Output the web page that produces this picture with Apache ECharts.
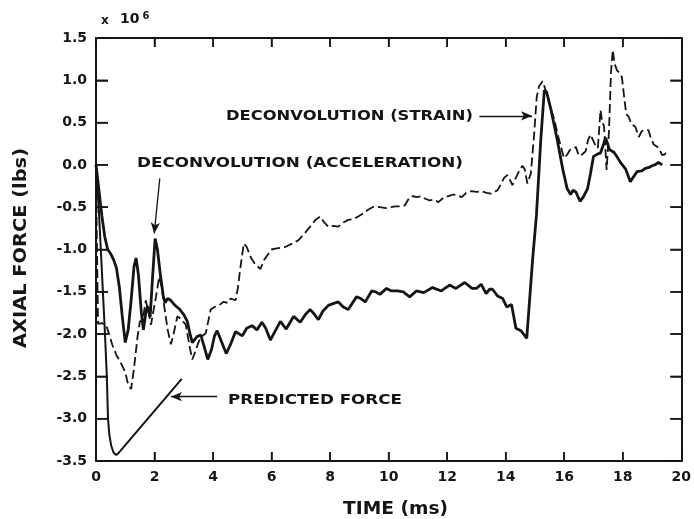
<!DOCTYPE html>
<html><head><meta charset="utf-8">
<script src="https://cdn.jsdelivr.net/npm/echarts@6/dist/echarts.min.js"></script>
<style>html,body{margin:0;padding:0;background:#fff}#c{width:694px;height:519px}</style>
</head><body><div id="c"></div>
<script>
// ---- data (time in ms, force in 10^6 lbs) ----
const accelTime = [0,0.1,0.2,0.3,0.4,0.5,0.6,0.7,0.8,0.9,1.0,1.1,1.2,1.3,1.37,1.45,1.55,1.62,1.7,1.76,1.85,1.92,2.02,2.1,2.2,2.3,2.36,2.45,2.55,2.7,2.84,3.0,3.12,3.2,3.29,3.45,3.58,3.7,3.82,3.95,4.05,4.14,4.3,4.45,4.6,4.77,4.9,5.0,5.15,5.33,5.5,5.67,5.8,5.96,6.1,6.3,6.5,6.6,6.75,6.98,7.15,7.32,7.45,7.6,7.75,7.94,8.1,8.28,8.45,8.62,8.9,9.05,9.2,9.42,9.55,9.7,9.93,10.1,10.3,10.5,10.72,10.95,11.2,11.5,11.8,12.08,12.3,12.6,12.85,13.0,13.16,13.33,13.45,13.55,13.72,13.9,14.04,14.2,14.35,14.52,14.72,14.92,15.05,15.2,15.32,15.4,15.55,15.76,15.95,16.1,16.22,16.3,16.4,16.54,16.65,16.8,16.9,17.0,17.15,17.24,17.35,17.41,17.48,17.55,17.7,17.8,17.92,18.1,18.26,18.35,18.49,18.65,18.77,18.9,19.0,19.1,19.22,19.35];
const accelForce = [0,-0.3,-0.6,-0.85,-1.0,-1.05,-1.12,-1.22,-1.45,-1.8,-2.1,-1.95,-1.6,-1.2,-1.1,-1.3,-1.75,-1.95,-1.75,-1.67,-1.8,-1.4,-0.87,-1.0,-1.3,-1.55,-1.63,-1.58,-1.6,-1.66,-1.7,-1.77,-1.85,-1.98,-2.1,-2.03,-2.01,-2.15,-2.3,-2.18,-2.02,-1.96,-2.1,-2.23,-2.12,-1.97,-2.0,-2.02,-1.93,-1.9,-1.95,-1.86,-1.93,-2.07,-1.98,-1.85,-1.94,-1.88,-1.79,-1.86,-1.77,-1.71,-1.76,-1.83,-1.73,-1.66,-1.64,-1.62,-1.68,-1.71,-1.56,-1.58,-1.62,-1.49,-1.5,-1.53,-1.46,-1.49,-1.49,-1.5,-1.56,-1.49,-1.51,-1.45,-1.49,-1.42,-1.46,-1.39,-1.46,-1.46,-1.41,-1.52,-1.47,-1.47,-1.55,-1.58,-1.68,-1.65,-1.93,-1.96,-2.05,-1.12,-0.6,0.3,0.88,0.86,0.65,0.3,-0.05,-0.28,-0.35,-0.3,-0.32,-0.43,-0.38,-0.28,-0.1,0.1,0.13,0.14,0.25,0.32,0.25,0.18,0.15,0.1,0.03,-0.05,-0.2,-0.15,-0.08,-0.07,-0.04,-0.03,-0.01,0.0,0.03,0.0];

const strainTime = [0,0.03,0.07,0.2,0.35,0.45,0.55,0.7,0.86,1.0,1.1,1.2,1.3,1.42,1.5,1.6,1.7,1.8,1.88,1.95,2.05,2.16,2.25,2.33,2.45,2.56,2.65,2.78,2.9,3.07,3.2,3.29,3.4,3.52,3.65,3.75,3.92,4.05,4.2,4.35,4.5,4.6,4.77,4.85,4.94,5.05,5.15,5.3,5.45,5.62,5.75,5.85,6.0,6.13,6.3,6.47,6.7,6.92,7.1,7.32,7.5,7.66,7.8,7.94,8.1,8.28,8.45,8.62,8.8,8.96,9.1,9.3,9.45,9.56,9.7,9.9,10.05,10.23,10.4,10.55,10.72,10.85,10.95,11.1,11.25,11.4,11.55,11.7,11.9,12.05,12.2,12.35,12.5,12.65,12.82,13.0,13.16,13.35,13.5,13.72,13.85,13.95,14.06,14.15,14.23,14.35,14.45,14.57,14.65,14.74,14.8,14.86,14.97,15.06,15.14,15.26,15.4,15.55,15.65,15.8,15.99,16.1,16.2,16.3,16.4,16.5,16.6,16.73,16.82,16.9,17.0,17.08,17.15,17.24,17.3,17.36,17.45,17.53,17.6,17.66,17.72,17.8,17.9,17.97,18.05,18.12,18.2,18.3,18.43,18.55,18.65,18.74,18.88,18.95,19.06,19.15,19.23,19.34,19.42,19.5];
const strainForce = [0,-0.9,-1.88,-1.87,-1.9,-2.0,-2.12,-2.25,-2.35,-2.45,-2.6,-2.65,-2.4,-2.03,-1.85,-1.83,-1.6,-1.75,-1.89,-1.75,-1.56,-1.32,-1.45,-1.67,-1.95,-2.12,-2.0,-1.79,-1.82,-1.89,-2.15,-2.3,-2.2,-2.08,-2.02,-1.99,-1.71,-1.68,-1.66,-1.62,-1.63,-1.58,-1.6,-1.45,-1.2,-0.93,-0.97,-1.1,-1.18,-1.23,-1.12,-1.07,-1.0,-0.99,-0.98,-0.97,-0.93,-0.89,-0.82,-0.73,-0.65,-0.61,-0.68,-0.73,-0.72,-0.73,-0.68,-0.65,-0.64,-0.61,-0.58,-0.53,-0.5,-0.49,-0.5,-0.51,-0.5,-0.49,-0.49,-0.48,-0.38,-0.37,-0.38,-0.37,-0.4,-0.42,-0.41,-0.44,-0.38,-0.37,-0.35,-0.36,-0.38,-0.33,-0.31,-0.32,-0.31,-0.33,-0.34,-0.3,-0.22,-0.15,-0.12,-0.18,-0.24,-0.15,-0.08,-0.01,-0.05,-0.22,-0.2,-0.1,0.35,0.8,0.93,0.99,0.85,0.65,0.55,0.33,0.08,0.12,0.18,0.2,0.21,0.11,0.12,0.16,0.3,0.36,0.28,0.22,0.2,0.65,0.5,0.46,-0.06,0.4,1.1,1.36,1.2,1.12,1.08,1.04,0.8,0.6,0.57,0.48,0.45,0.33,0.4,0.41,0.41,0.33,0.24,0.22,0.2,0.12,0.12,0.15];

const predTime = [0,0.1,0.2,0.3,0.37,0.41,0.46,0.52,0.6,0.69,0.76,2.93];
const predForce = [0,-0.55,-1.25,-1.95,-2.5,-3.0,-3.2,-3.32,-3.4,-3.43,-3.41,-2.53];

// axis ticks
const xTickValues = [0, 2, 4, 6, 8, 10, 12, 14, 16, 18, 20];
const yTickValues = [-3.5, -3.0, -2.5, -2.0, -1.5, -1.0, -0.5, 0.0, 0.5, 1.0, 1.5];

const labelStrain = 'DECONVOLUTION (STRAIN)';
const labelAccel = 'DECONVOLUTION (ACCELERATION)';
const labelPred = 'PREDICTED FORCE';
const xName = 'TIME (ms)';
const yName = 'AXIAL FORCE (lbs)';

// ---- build ----
const G = {left: 96, right: 10, top: 38, bottom: 58};
const xMin = xTickValues[0], xMax = xTickValues[xTickValues.length - 1];
const yMin = yTickValues[0], yMax = yTickValues[yTickValues.length - 1];

const zip = (t, v) => t.map((x, i) => [x, v[i]]);
const ink = '#151515';
const FONT = '"DejaVu Sans", "Liberation Sans", sans-serif';
const mctx = document.createElement('canvas').getContext('2d');
function scaledText(id, str, size, left, cy, targetW, rot) {
  const font = 'bold ' + size + 'px ' + FONT;
  mctx.font = font;
  const w = mctx.measureText(str).width;
  return {id: id, type: 'text', x: left, y: cy, rotation: rot || 0, scaleX: targetW / w, silent: true,
    style: {text: str, font: font, fill: ink, textAlign: 'left', textVerticalAlign: 'middle'}};
}
function makeAxis(position, min, max, interval, tickLen, label) {
  return {
    type: 'value', position: position, min: min, max: max, interval: interval,
    axisLine: {show: true, onZero: false, lineStyle: {color: ink, width: 2}},
    axisTick: {show: true, inside: true, length: tickLen, lineStyle: {color: ink, width: 1.5}},
    splitLine: {show: false},
    axisLabel: label || {show: false}
  };
}
const xLab = {show: true, margin: 9, color: ink, fontFamily: FONT, fontWeight: 'bold', fontSize: 14};
const yLab = {show: true, margin: 9, color: ink, fontFamily: FONT, fontWeight: 'bold', fontSize: 14,
  formatter: v => v.toFixed(1)};
const step = xTickValues[1] - xTickValues[0], ystep = yTickValues[1] - yTickValues[0];

const texts = [
  scaledText('t1', labelStrain, 14, 226, 116, 247),
  scaledText('t2', labelAccel, 14, 137, 163, 326),
  scaledText('t3', labelPred, 14, 228, 400, 174),
  scaledText('t4', xName, 18, 343, 509, 105),
  scaledText('t5', yName, 18, 21, 348, 200, Math.PI / 2),
  {id: 't6', type: 'text', x: 101, y: 21, silent: true, style: {text: 'x', font: 'bold 12px ' + FONT, fill: ink, textVerticalAlign: 'middle'}},
  {id: 't7', type: 'text', x: 120, y: 19.5, silent: true, style: {text: '10', font: 'bold 14px ' + FONT, fill: ink, textVerticalAlign: 'middle'}},
  {id: 't8', type: 'text', x: 142.5, y: 16, silent: true, style: {text: '6', font: 'bold 10px ' + FONT, fill: ink, textVerticalAlign: 'middle'}}
];

const chart = echarts.init(document.getElementById('c'));
chart.setOption({
  animation: false,
  backgroundColor: '#fff',
  grid: G,
  xAxis: [makeAxis('bottom', xMin, xMax, step, 9, xLab), makeAxis('top', xMin, xMax, step, 9)],
  yAxis: [makeAxis('left', yMin, yMax, ystep, 12, yLab), makeAxis('right', yMin, yMax, ystep, 11)],
  series: [
    {type: 'line', data: zip(predTime, predForce), showSymbol: false, symbol: 'none',
      lineStyle: {color: ink, width: 2}, z: 3,
      markLine: {silent: true, symbol: ['none', 'arrow'], symbolSize: [7, 11], label: {show: false},
        lineStyle: {color: ink, width: 1.3, type: 'solid'},
        data: [
          [{coord: [4.14, -2.74]}, {coord: [2.56, -2.74]}],
          [{coord: [13.1, 0.58]}, {coord: [14.9, 0.58]}],
          [{coord: [2.18, -0.16]}, {coord: [1.99, -0.81]}]
        ]}},
    {type: 'line', data: zip(strainTime, strainForce), showSymbol: false, symbol: 'none',
      lineStyle: {color: ink, width: 1.8, type: [9, 4]}, z: 2},
    {type: 'line', data: zip(accelTime, accelForce), showSymbol: false, symbol: 'none',
      lineStyle: {color: ink, width: 2.8}, z: 4}
  ],
  graphic: texts
});

// inward tick marks on all four frame sides, placed through the axes' own scales
const tickEls = [];
const seg = (id, x1, y1, x2, y2) => ({id: id, type: 'line', silent: true, z: 50,
  shape: {x1: x1, y1: y1, x2: x2, y2: y2}, style: {stroke: ink, lineWidth: 1.5}});
const pBL = chart.convertToPixel({gridIndex: 0}, [xMin, yMin]);
const pTR = chart.convertToPixel({gridIndex: 0}, [xMax, yMax]);
xTickValues.slice(1, -1).forEach((v, i) => {
  const px = chart.convertToPixel({gridIndex: 0}, [v, yMin])[0];
  tickEls.push(seg('xb' + i, px, pBL[1], px, pBL[1] - 9));
  tickEls.push(seg('xt' + i, px, pTR[1], px, pTR[1] + 9));
});
yTickValues.slice(1, -1).forEach((v, i) => {
  const py = chart.convertToPixel({gridIndex: 0}, [xMin, v])[1];
  tickEls.push(seg('yl' + i, pBL[0], py, pBL[0] + 12, py));
  tickEls.push(seg('yr' + i, pTR[0], py, pTR[0] - 11, py));
});
chart.setOption({graphic: texts.concat(tickEls)});
</script></body></html>
